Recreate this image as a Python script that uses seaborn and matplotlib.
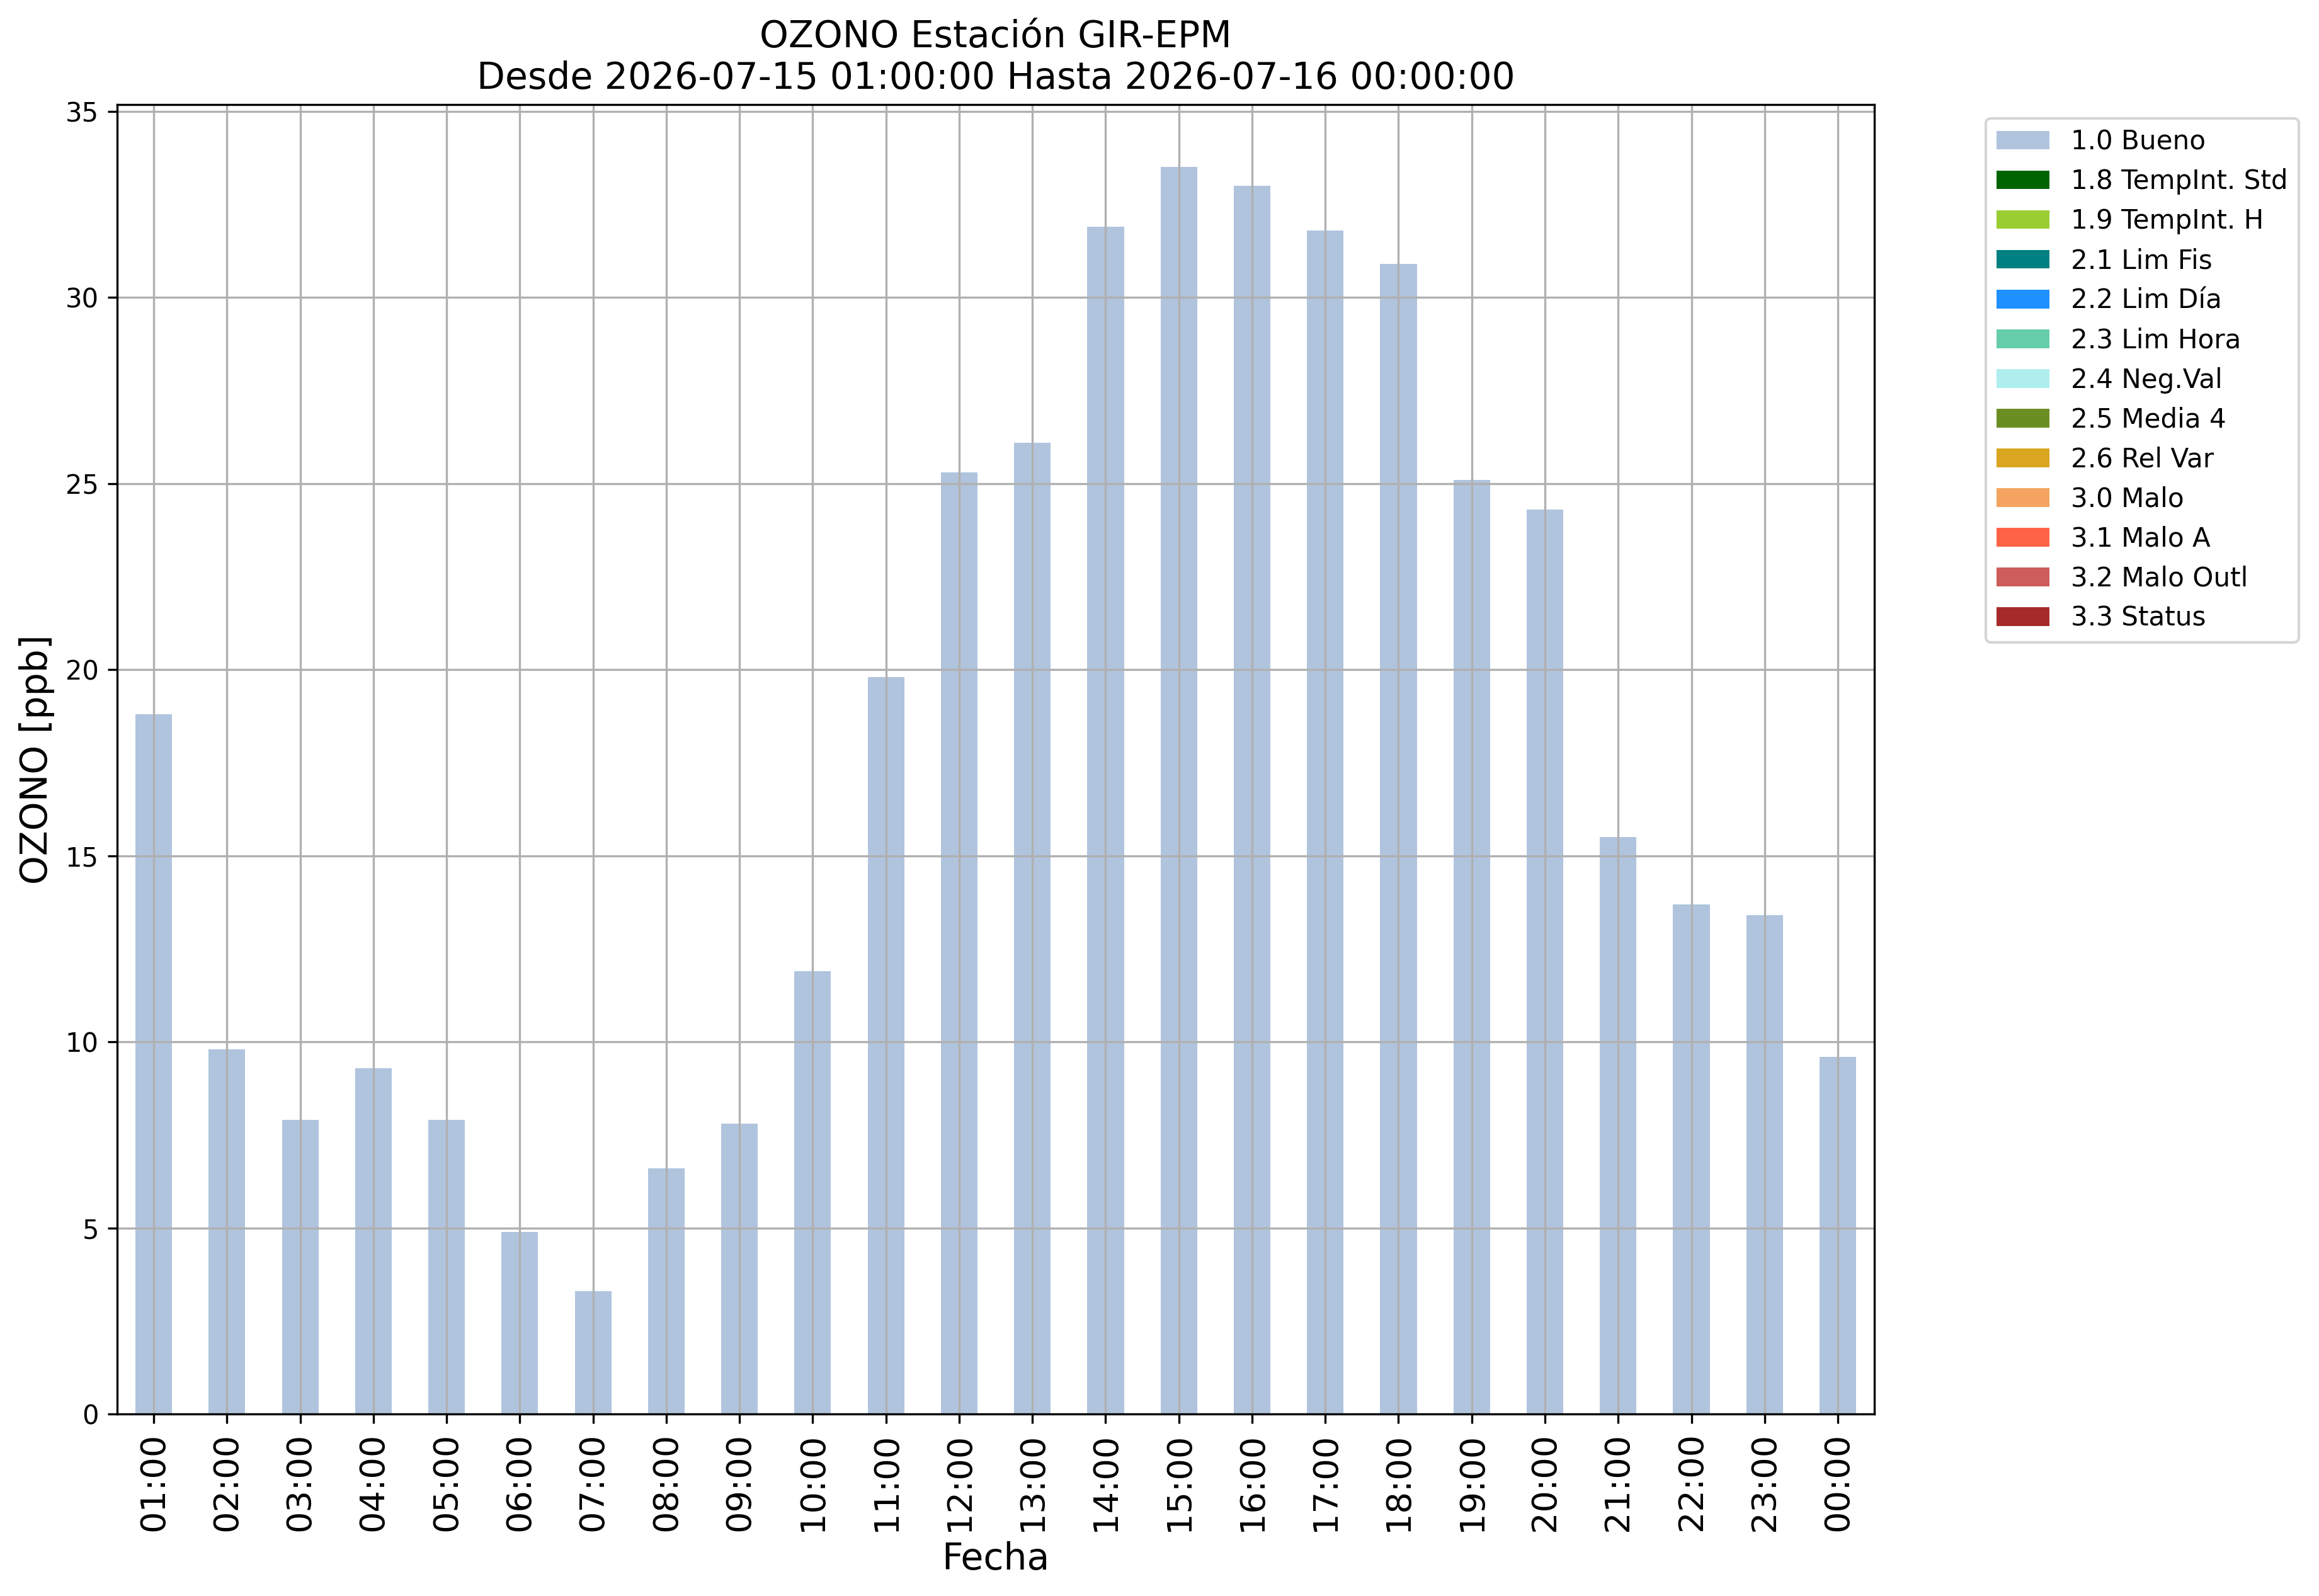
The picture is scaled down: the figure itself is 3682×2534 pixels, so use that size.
import pandas as pd
import seaborn as sns
import matplotlib.pyplot as plt
from matplotlib.patches import Patch

# hourly ozone values (ppb)
horas = ["01:00", "02:00", "03:00", "04:00", "05:00", "06:00", "07:00", "08:00",
         "09:00", "10:00", "11:00", "12:00", "13:00", "14:00", "15:00", "16:00",
         "17:00", "18:00", "19:00", "20:00", "21:00", "22:00", "23:00", "00:00"]
ozono = [18.8, 9.8, 7.9, 9.3, 7.9, 4.9, 3.3, 6.6, 7.8, 11.9, 19.8, 25.3,
         26.1, 31.9, 33.5, 33.0, 31.8, 30.9, 25.1, 24.3, 15.5, 13.7, 13.4, 9.6]

# quality flags shown in legend
flags = ["1.0 Bueno", "1.8 TempInt. Std", "1.9 TempInt. H", "2.1 Lim Fis",
         "2.2 Lim Día", "2.3 Lim Hora", "2.4 Neg.Val", "2.5 Media 4",
         "2.6 Rel Var", "3.0 Malo", "3.1 Malo A", "3.2 Malo Outl", "3.3 Status"]
flag_colors = ["lightsteelblue", "darkgreen", "yellowgreen", "teal",
               "dodgerblue", "mediumaquamarine", "paleturquoise", "olivedrab",
               "goldenrod", "sandybrown", "tomato", "indianred", "brown"]

df = pd.DataFrame({"Fecha": horas, "OZONO": ozono})

fig, ax = plt.subplots(figsize=(3682 / 300, 2534 / 300), dpi=300)
fig.subplots_adjust(left=0.0505, right=0.8083, top=0.9343, bottom=0.114)

sns.barplot(data=df, x="Fecha", y="OZONO", color=flag_colors[0],
            saturation=1, width=0.5, linewidth=0, ax=ax)

ax.set_xlim(-0.5, len(horas) - 0.5)
ax.set_ylim(0, max(ozono) * 1.05)
ax.grid(True)
ax.tick_params(axis="x", labelsize=13, labelrotation=90)
ax.tick_params(axis="y", labelsize=10)
ax.set_xlabel("Fecha", fontsize=14)
ax.set_ylabel("OZONO [ppb]", fontsize=14)
ax.set_title("OZONO Estación GIR-EPM\nDesde 2026-07-15 01:00:00 Hasta 2026-07-16 00:00:00",
             fontsize=14)

handles = [Patch(facecolor=c, label=f) for f, c in zip(flags, flag_colors)]
ax.legend(handles=handles, bbox_to_anchor=(1.056, 1), loc="upper left", fontsize=10.1)

fig.savefig("out.png", dpi=300)
